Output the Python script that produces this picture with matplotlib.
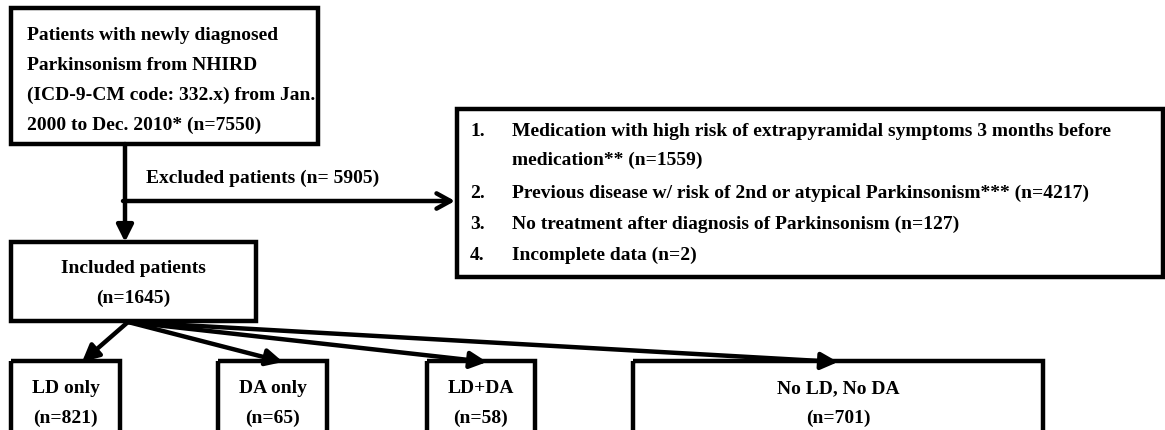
import matplotlib.pyplot as plt
from matplotlib.patches import Rectangle

# data
n_total = 7550
n_excluded = 5905
exclusion_reasons = [
    "Medication with high risk of extrapyramidal symptoms 3 months before\nmedication** (n={})",
    "Previous disease w/ risk of 2nd or atypical Parkinsonism*** (n={})",
    "No treatment after diagnosis of Parkinsonism (n={})",
    "Incomplete data (n={})",
]
exclusion_counts = [1559, 4217, 127, 2]
n_included = 1645
groups = ["LD only", "DA only", "LD+DA", "No LD, No DA"]
group_counts = [821, 65, 58, 701]

plt.rcParams['font.family'] = ['Liberation Serif', 'DejaVu Serif']
fs = 14
lw = 3.2
off = 5  # baseline offset from line centre


def txt(x, y, s, ha='left'):
    ax.text(x, y + off, s, fontsize=fs, fontweight='bold', va='baseline', ha=ha)


fig = plt.figure(figsize=(11.65, 4.31), dpi=100)
ax = fig.add_axes([0, 0, 1, 1])
ax.set_xlim(0, 1165)
ax.set_ylim(431, 0)
ax.axis('off')


def box(x0, y0, x1, y1):
    ax.add_patch(Rectangle((x0, y0), x1 - x0, y1 - y0, fill=False, lw=lw, ec='black'))


# top box
box(11, 9, 318, 145)
top_lines = ["Patients with newly diagnosed", "Parkinsonism from NHIRD",
             "(ICD-9-CM code: 332.x) from Jan.", "2000 to Dec. 2010* (n=%d)" % n_total]
for i, t in enumerate(top_lines):
    txt(27, 35 + i * 30, t)

# vertical arrow to included
ax.annotate("", xy=(125, 243), xytext=(125, 145),
            arrowprops=dict(arrowstyle='-|>,head_length=1.0,head_width=0.5', lw=lw, color='black',
                            shrinkA=0, shrinkB=0))
# branch to exclusion box
ax.annotate("", xy=(455, 202), xytext=(123, 202),
            arrowprops=dict(arrowstyle='->,head_length=1.0,head_width=0.55', lw=lw, color='black',
                            shrinkA=0, shrinkB=0))
txt(146, 178, "Excluded patients (n= %d)" % n_excluded)

# exclusion box
box(457, 110, 1163, 278)
ys = [131, 193, 224, 255]
for i, (t, c) in enumerate(zip(exclusion_reasons, exclusion_counts)):
    txt(470, ys[i], "%d." % (i + 1))
    parts = t.format(c).split("\n")
    for j, p in enumerate(parts):
        txt(512, ys[i] + j * 29, p)

# included box
box(11, 243, 256, 322)
txt(133, 268, "Included patients", ha='center')
txt(133, 298, "(n=%d)" % n_included, ha='center')

# bottom boxes
bx = [(11, 120), (218, 327), (427, 535), (633, 1043)]
tips = [82, 283, 487, 838]
for (x0, x1), tip, g, c in zip(bx, tips, groups, group_counts):
    box(x0, 362, x1, 445)
    xc = (x0 + x1) / 2
    txt(xc, 388, g, ha='center')
    txt(xc, 418, "(n=%d)" % c, ha='center')
    ax.annotate("", xy=(tip, 363), xytext=(128, 323),
                arrowprops=dict(arrowstyle='-|>,head_length=1.0,head_width=0.5', lw=lw,
                                color='black', shrinkA=0, shrinkB=0))

fig.savefig("out.png", dpi=100)
